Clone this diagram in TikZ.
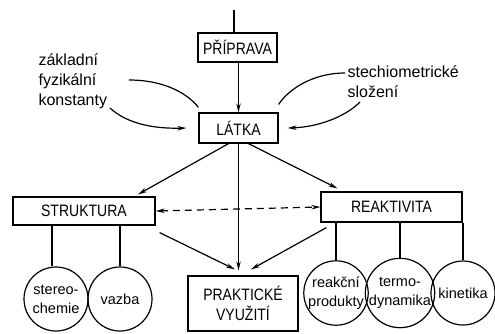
\documentclass[tikz,border=0pt]{standalone}
\usepackage{fontspec}
\setmainfont{Liberation Sans}
\newfontfamily\capsfont{Liberation Sans}[FakeStretch=0.85]
\usetikzlibrary{arrows.meta,calc}
\begin{document}
\begin{tikzpicture}[x=1pt,y=-1pt,line width=1.2pt,
  box/.style={draw, rectangle, inner sep=0pt, align=center,
    font=\capsfont\fontsize{16.5}{20}\selectfont},
  circ/.style={draw, circle, minimum size=64pt, inner sep=0pt, align=center,
    font=\fontsize{14.5}{19}\selectfont},
  lbl/.style={align=left, inner sep=0pt, font=\fontsize{16}{20}\selectfont},
  arr/.style={-{Stealth[length=9pt,width=4.5pt]}},
  darr/.style={{Stealth[length=9pt,width=4.5pt]}-{Stealth[length=9pt,width=4.5pt]}, dash pattern=on 7pt off 5pt}
]
\useasboundingbox (0,0) rectangle (495,333);

\coordinate (top) at (234,10);
\node[box, minimum width=79pt, minimum height=29pt] (prip) at (237.5,47.5) {PŘÍPRAVA};
\node[box, minimum width=79pt, minimum height=30pt] (latka) at (238.5,128) {LÁTKA};
\node[box, minimum width=142pt, minimum height=28pt] (struk) at (84,211) {STRUKTURA};
\node[box, minimum width=141pt, minimum height=30pt] (reakt) at (391.5,207) {REAKTIVITA};
\node[box, minimum width=110pt, minimum height=55pt] (prakt) at (243,303.5) {PRAKTICKÉ\\VYUŽITÍ};

\node[circ] (ster) at (56,299) {stereo-\\chemie};
\node[circ] (vazba) at (120,299) {vazba};
\node[circ] (prod) at (336,293) {reakční\\produkty};
\node[circ] (termo) at (400,293) {termo-\\dynamika};
\node[circ] (kin) at (463,293) {kinetika};

\node[lbl, anchor=west] (zfk) at (38,81) {základní\\fyzikální\\konstanty};
\node[lbl, anchor=west] (stech) at (347,82) {stechiometrické\\složení};

\coordinate (a1) at (129,80);
\coordinate (b1) at (110,108);
\coordinate (c1) at (345,73);
\coordinate (d1) at (360,102);

% top line and PRIPRAVA -> LATKA
\draw (top) -- (top |- prip.north);
\draw[arr] (latka.north |- prip.south) -- (latka.north);

% side curves
\draw (a1) .. controls (165,80) and (188,94) .. ([yshift=5pt]latka.north west);
\draw[arr] (b1) .. controls (125,122) and (150,129) .. ([xshift=-12pt]latka.west);
\draw (c1) .. controls (312,73) and (288,90) .. ([yshift=8pt]latka.north east);
\draw[arr] (d1) .. controls (345,117) and (318,127) .. ([xshift=9pt]latka.east);

% from LATKA
\draw[arr] ([xshift=-10pt]latka.south) -- ([xshift=54pt,yshift=2pt]struk.north);
\draw[arr] ([xshift=10pt]latka.south) -- ([xshift=-54pt,yshift=3pt]reakt.north);
\draw[arr] (latka.south) -- ([yshift=5pt]latka.south |- prakt.north);

% to PRAKTICKE
\draw[arr] ([xshift=4pt,yshift=-7pt]struk.south east) -- ([xshift=-8pt,yshift=6pt]prakt.north);
\draw[arr] ([xshift=6pt,yshift=-5pt]reakt.south west) -- ([xshift=8pt,yshift=6pt]prakt.north);

% dashed
\draw[darr] (struk.east) -- (reakt.west);

% circles
\draw ([xshift=-4pt]ster.north |- struk.south) -- ([xshift=-4pt]ster.north);
\draw (vazba.north |- struk.south) -- (vazba.north);
\draw (prod.north |- reakt.south) -- (prod.north);
\draw (termo.north |- reakt.south) -- (termo.north);
\draw (kin.north |- reakt.south) -- (kin.north);
\end{tikzpicture}
\end{document}
